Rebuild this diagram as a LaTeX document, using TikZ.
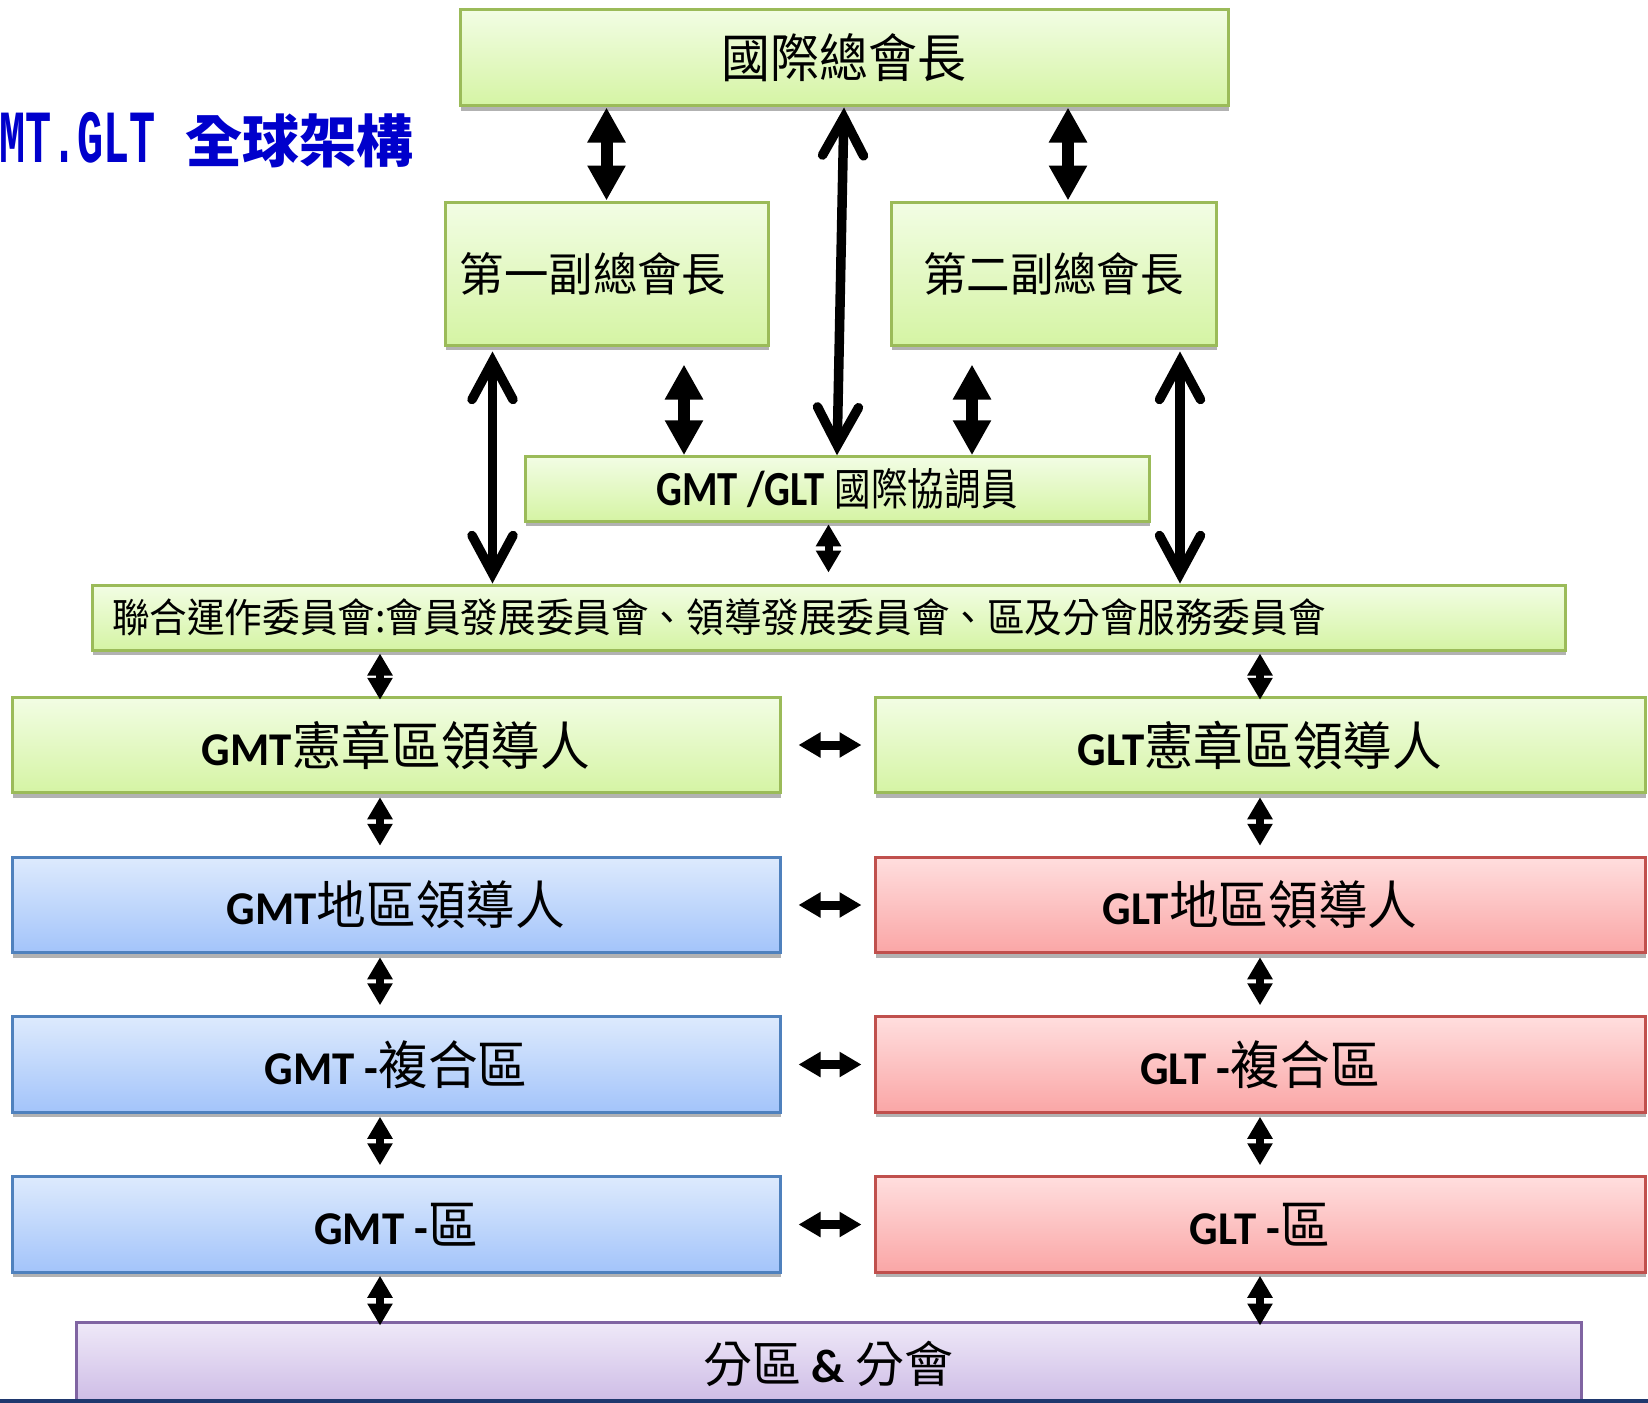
\documentclass[tikz,border=0pt]{standalone}
\usepackage{graphicx}
\usepackage{fontspec}
\setmainfont{Noto Sans CJK TC}
\newfontfamily\lat{Carlito}
\newfontfamily\mono{Liberation Mono}
\usetikzlibrary{arrows.meta,shadows}

\definecolor{grnB}{HTML}{9BBB59}
\definecolor{grnT}{RGB}{242,253,228}
\definecolor{grnBt}{RGB}{213,244,164}
\definecolor{bluB}{HTML}{4F81BD}
\definecolor{bluT}{RGB}{221,234,253}
\definecolor{bluBt}{RGB}{163,196,250}
\definecolor{redB}{HTML}{C0504D}
\definecolor{redT}{RGB}{255,222,222}
\definecolor{redBt}{RGB}{250,166,166}
\definecolor{purB}{HTML}{8064A2}
\definecolor{purT}{RGB}{239,233,248}
\definecolor{purBt}{RGB}{204,186,229}
\definecolor{titleblue}{RGB}{0,0,204}
\definecolor{navy}{RGB}{31,56,110}

\newcommand\Lb[2]{{\lat\bfseries\fontsize{#1}{#1}\selectfont #2}}
\newcommand\Ck[2]{{\fontsize{#1}{#1}\selectfont #2}}

\tikzset{
  box/.style={draw, line width=3pt, inner sep=0pt,
    drop shadow={shadow xshift=1pt, shadow yshift=-5pt, opacity=0.3, fill=black}},
  grn/.style={box, draw=grnB, top color=grnT, bottom color=grnBt},
  blu/.style={box, draw=bluB, top color=bluT, bottom color=bluBt},
  red/.style={box, draw=redB, top color=redT, bottom color=redBt},
  pur/.style={box, draw=purB, top color=purT, bottom color=purBt},
  rowbox/.style={minimum height=95.5pt},
  bigar/.style={line width=12pt, {Triangle[length=35pt,width=36pt]}-{Triangle[length=35pt,width=36pt]}},
  smar/.style={line width=8pt, {Triangle[length=22pt,width=24pt]}-{Triangle[length=22pt,width=24pt]}},
  smarh/.style={line width=9pt, {Triangle[length=22pt,width=24pt]}-{Triangle[length=22pt,width=24pt]}},
  opar/.style={line width=9.5pt, {Straight Barb[length=38pt,width=41pt,line cap=round,line join=miter]}-{Straight Barb[length=38pt,width=41pt,line cap=round,line join=miter]}},
}

\begin{document}
\begin{tikzpicture}[x=1pt,y=-1pt]
\useasboundingbox (0,0) rectangle (1648,1402);

% title
\node[anchor=base west, inner sep=0pt, text=titleblue] (title) at (-27,162)
  {\scalebox{0.58}[1]{\mono\bfseries\fontsize{75}{75}\selectfont GMT.GLT}\hspace{30pt}{\bfseries\fontsize{57}{57}\selectfont 全球架構}};

% top levels
\node[grn, minimum width=768pt, minimum height=96.5pt] (pres) at (844,57.75)
  {\scalebox{0.94}[1]{\Ck{52}{國際總會長}}};
\node[grn, minimum width=323pt, minimum height=143pt] (vp1) at (606.5,273.5)
  {\scalebox{0.965}[1]{\Ck{46}{第一副總會長}}\hspace{27pt}\mbox{}};
\node[grn, minimum width=325pt, minimum height=143pt] (vp2) at (1053.5,273.5)
  {\scalebox{0.945}[1]{\Ck{46}{第二副總會長}}};
\node[grn, minimum width=624pt, minimum height=64.5pt] (coord) at (837,489)
  {\scalebox{0.83}[1]{\Lb{49}{GMT /GLT}\hspace{12pt}\Ck{44}{國際協調員}}};
\node[grn, minimum width=1473pt, minimum height=65pt, inner xsep=20pt] (joint) at (828.5,617.5)
  {\makebox[1433pt][l]{\scalebox{0.94}[1]{\Ck{40}{聯合運作委員會:會員發展委員會、領導發展委員會、區及分會服務委員會}}}};

% rows
\node[grn, rowbox, minimum width=768pt] (L1) at (396,745)
  {\scalebox{0.955}[1]{\Lb{47}{GMT}\Ck{52}{憲章區領導人}}};
\node[grn, rowbox, minimum width=770pt] (R1) at (1260,745)
  {\scalebox{0.955}[1]{\Lb{47}{GLT}\Ck{52}{憲章區領導人}}};
\node[blu, rowbox, minimum width=768pt] (L2) at (396,905)
  {\scalebox{0.955}[1]{\Lb{47}{GMT}\Ck{52}{地區領導人}}};
\node[red, rowbox, minimum width=770pt] (R2) at (1260,905)
  {\scalebox{0.955}[1]{\Lb{47}{GLT}\Ck{52}{地區領導人}}};
\node[blu, rowbox, minimum width=768pt] (L3) at (396,1064.5)
  {\scalebox{0.955}[1]{\Lb{47}{GMT -}\Ck{52}{複合區}}};
\node[red, rowbox, minimum width=770pt] (R3) at (1260,1064.5)
  {\scalebox{0.955}[1]{\Lb{47}{GLT -}\Ck{52}{複合區}}};
\node[blu, rowbox, minimum width=768pt] (L4) at (396,1224.5)
  {\scalebox{0.955}[1]{\Lb{47}{GMT -}\Ck{52}{區}}};
\node[red, rowbox, minimum width=770pt] (R4) at (1260,1224.5)
  {\scalebox{0.955}[1]{\Lb{47}{GLT -}\Ck{52}{區}}};
\node[pur, minimum width=1505pt, minimum height=84pt] (club) at (828.5,1364)
  {\Ck{49}{分區}\Lb{47}{\ \&\ }\Ck{49}{分會}};

% bottom edge line
\fill[navy] (0,1399) rectangle (1648,1403);

% helper coordinates
\coordinate (p1) at (vp1.north);
\path ([xshift=14.5pt]vp2.north) coordinate (p2);
\path ([xshift=-114pt]vp1.south) coordinate (o1);
\path ([xshift=126.5pt]vp2.south) coordinate (o2);
\path ([xshift=77.5pt]vp1.south) coordinate (c1);
\path ([xshift=-81.5pt]vp2.south) coordinate (c2);
\coordinate (lx) at (380,0);
\coordinate (rx) at (1260,0);

% top arrows
\draw[bigar] (p1 |- pres.south) -- (p1);
\draw[bigar] (p2 |- pres.south) -- (p2);
\draw[opar] (pres.south) -- (coord.north);
\draw[opar, shorten <=5pt] (o1) -- (o1 |- joint.north);
\draw[opar, shorten <=5pt] (o2) -- (o2 |- joint.north);
\draw[bigar, shorten <=18pt] (c1) -- (c1 |- coord.north);
\draw[bigar, shorten <=18pt] (c2) -- (c2 |- coord.north);
\draw[smar, shorten <=1.5pt, shorten >=11pt] (joint.north |- coord.south) -- (joint.north);

% joint to rows
\draw[smar, shorten <=2pt, shorten >=-4pt] (lx |- joint.south) -- (lx |- L1.north);
\draw[smar, shorten <=2pt, shorten >=-4pt] (rx |- joint.south) -- (rx |- R1.north);

% vertical arrows between rows
\draw[smar, shorten <=3pt, shorten >=10pt] (lx |- L1.south) -- (lx |- L2.north);
\draw[smar, shorten <=3pt, shorten >=10pt] (lx |- L2.south) -- (lx |- L3.north);
\draw[smar, shorten <=3pt, shorten >=10pt] (lx |- L3.south) -- (lx |- L4.north);
\draw[smar, shorten <=2pt, shorten >=-5pt] (lx |- L4.south) -- (lx |- club.north);
\draw[smar, shorten <=3pt, shorten >=10pt] (rx |- R1.south) -- (rx |- R2.north);
\draw[smar, shorten <=3pt, shorten >=10pt] (rx |- R2.south) -- (rx |- R3.north);
\draw[smar, shorten <=3pt, shorten >=10pt] (rx |- R3.south) -- (rx |- R4.north);
\draw[smar, shorten <=2pt, shorten >=-5pt] (rx |- R4.south) -- (rx |- club.north);

% horizontal arrows
\draw[smarh, shorten <=17pt, shorten >=12pt] (L1.east) -- (R1.west);
\draw[smarh, shorten <=17pt, shorten >=12pt] (L2.east) -- (R2.west);
\draw[smarh, shorten <=17pt, shorten >=12pt] (L3.east) -- (R3.west);
\draw[smarh, shorten <=17pt, shorten >=12pt] (L4.east) -- (R4.west);
\end{tikzpicture}
\end{document}
